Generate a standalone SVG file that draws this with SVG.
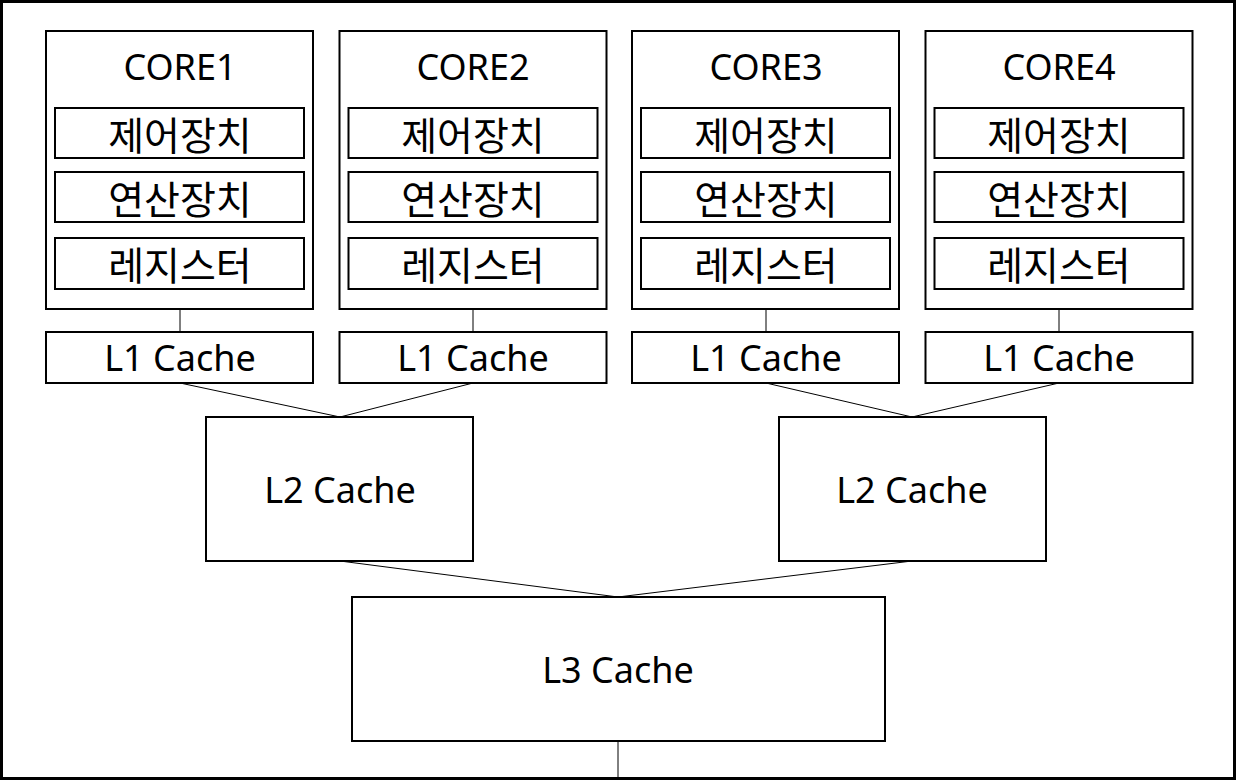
<svg xmlns="http://www.w3.org/2000/svg" width="1237" height="781" viewBox="0 0 1237 781">
<style>
.box{fill:#fff;stroke:#000;stroke-width:2}
.frame{fill:#fff;stroke:#000;stroke-width:3}
.ln{stroke:#000;stroke-width:1;fill:none}
.lat{font-family:"Noto Sans","Open Sans","Noto Sans CJK KR",sans-serif;font-size:36px;text-anchor:middle;fill:#000}
.kr{font-family:"Noto Sans CJK KR",sans-serif;font-size:39px;text-anchor:middle;fill:#000;dominant-baseline:central}
</style>
<rect class="frame" x="1.5" y="1.5" width="1233" height="777"/>
<g id="connectors">
<line class="ln" x1="180" y1="309" x2="180" y2="332"/>
<line class="ln" x1="473" y1="309" x2="473" y2="332"/>
<line class="ln" x1="766" y1="309" x2="766" y2="332"/>
<line class="ln" x1="1059" y1="309" x2="1059" y2="332"/>
<line class="ln" x1="180" y1="383" x2="340" y2="417"/>
<line class="ln" x1="473" y1="383" x2="340" y2="417"/>
<line class="ln" x1="766" y1="383" x2="912" y2="417"/>
<line class="ln" x1="1059" y1="383" x2="912" y2="417"/>
<line class="ln" x1="340" y1="561" x2="618" y2="597"/>
<line class="ln" x1="912" y1="561" x2="618" y2="597"/>
<line class="ln" x1="618" y1="741" x2="618" y2="779"/>
</g>
<g id="core1">
<rect class="box" x="46" y="31" width="267" height="278"/>
<text class="lat" x="180" y="80">CORE1</text>
<rect class="box" x="55" y="108" width="249" height="50"/><text class="kr" x="180" y="133">제어장치</text>
<rect class="box" x="55" y="172" width="249" height="50"/><text class="kr" x="180" y="197">연산장치</text>
<rect class="box" x="55" y="238" width="249" height="51"/><text class="kr" x="180" y="263">레지스터</text>
</g>
<g id="core2">
<rect class="box" x="339.5" y="31" width="267" height="278"/>
<text class="lat" x="473" y="80">CORE2</text>
<rect class="box" x="348.5" y="108" width="249" height="50"/><text class="kr" x="473" y="133">제어장치</text>
<rect class="box" x="348.5" y="172" width="249" height="50"/><text class="kr" x="473" y="197">연산장치</text>
<rect class="box" x="348.5" y="238" width="249" height="51"/><text class="kr" x="473" y="263">레지스터</text>
</g>
<g id="core3">
<rect class="box" x="632" y="31" width="267" height="278"/>
<text class="lat" x="766" y="80">CORE3</text>
<rect class="box" x="641" y="108" width="249" height="50"/><text class="kr" x="766" y="133">제어장치</text>
<rect class="box" x="641" y="172" width="249" height="50"/><text class="kr" x="766" y="197">연산장치</text>
<rect class="box" x="641" y="238" width="249" height="51"/><text class="kr" x="766" y="263">레지스터</text>
</g>
<g id="core4">
<rect class="box" x="925.5" y="31" width="267" height="278"/>
<text class="lat" x="1059" y="80">CORE4</text>
<rect class="box" x="934.5" y="108" width="249" height="50"/><text class="kr" x="1059" y="133">제어장치</text>
<rect class="box" x="934.5" y="172" width="249" height="50"/><text class="kr" x="1059" y="197">연산장치</text>
<rect class="box" x="934.5" y="238" width="249" height="51"/><text class="kr" x="1059" y="263">레지스터</text>
</g>
<g id="l1-1"><rect class="box" x="46" y="332" width="267" height="51"/><text class="lat" x="180" y="371">L1 Cache</text></g>
<g id="l1-2"><rect class="box" x="339.5" y="332" width="267" height="51"/><text class="lat" x="473" y="371">L1 Cache</text></g>
<g id="l1-3"><rect class="box" x="632" y="332" width="267" height="51"/><text class="lat" x="766" y="371">L1 Cache</text></g>
<g id="l1-4"><rect class="box" x="925.5" y="332" width="267" height="51"/><text class="lat" x="1059" y="371">L1 Cache</text></g>
<g id="l2-1"><rect class="box" x="206" y="417" width="267" height="144"/><text class="lat" x="340" y="503">L2 Cache</text></g>
<g id="l2-2"><rect class="box" x="779" y="417" width="267" height="144"/><text class="lat" x="912" y="503">L2 Cache</text></g>
<g id="l3"><rect class="box" x="352" y="597" width="533" height="144"/><text class="lat" x="618" y="683">L3 Cache</text></g>
</svg>
